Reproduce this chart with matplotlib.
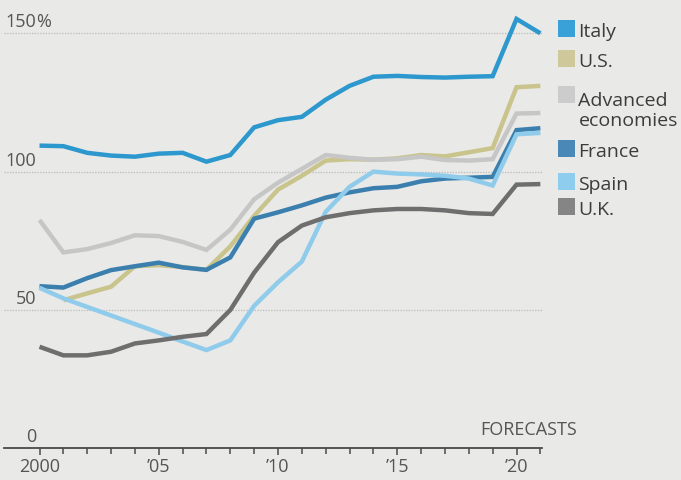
import numpy as np
import matplotlib
matplotlib.use("Agg")
import matplotlib.pyplot as plt
from matplotlib.patches import Rectangle

plt.rcParams['font.family'] = ['Open Sans', 'DejaVu Sans']

# General government gross debt, % of GDP
years = list(range(2000, 2022))
italy = [109.4, 109.2, 106.8, 105.8, 105.4, 106.5, 106.8, 103.6, 106.0, 116.0, 118.6,
         119.8, 126.0, 131.0, 134.3, 134.6, 134.2, 134.0, 134.3, 134.5, 155.2, 150.0]
us = [np.nan, 53.5, 56.0, 58.4, 65.8, 66.2, 65.5, 64.5, 73.0, 84.0, 93.5,
      98.5, 104.0, 104.5, 104.3, 104.8, 106.0, 105.5, 107.0, 108.5, 130.5, 131.0]
advanced = [82.5, 70.8, 72.0, 74.2, 77.0, 76.7, 74.6, 71.7, 79.0, 90.0, 96.0,
            101.0, 106.0, 105.0, 104.3, 104.5, 105.4, 104.2, 104.0, 104.5, 121.0, 121.2]
france = [58.6, 58.1, 61.5, 64.4, 65.8, 67.1, 65.4, 64.5, 69.0, 83.0, 85.3,
          87.8, 90.6, 92.5, 94.0, 94.5, 96.5, 97.5, 97.8, 98.1, 115.0, 115.7]
spain = [58.0, 54.2, 51.1, 48.0, 44.9, 41.8, 38.6, 35.5, 39.0, 51.5, 60.0,
         67.5, 85.5, 94.5, 100.0, 99.3, 99.0, 98.5, 97.5, 95.0, 113.5, 114.0]
uk = [36.7, 33.6, 33.6, 34.9, 37.9, 39.0, 40.3, 41.3, 50.0, 63.5, 74.5,
      80.5, 83.5, 85.0, 86.0, 86.5, 86.5, 86.0, 85.0, 84.7, 95.3, 95.5]

series_names = ["Italy", "U.S.", "Advanced\neconomies", "France", "Spain", "U.K."]
series_values = [italy, us, advanced, france, spain, uk]
line_colors = ["#2c98cd", "#c9c48c", "#c6c6c6", "#3a7fae", "#8fcbeb", "#6e6e6e"]
legend_colors = ["#3aa0d8", "#cfc89a", "#cccccc", "#4a88b8", "#8fcdef", "#858585"]

y_ticks = [0, 50, 100, 150]
x_ticks = [2000, 2005, 2010, 2015, 2020]
x_tick_labels = ["2000", "\u201905", "\u201910", "\u201915", "\u201920"]

W, H = 681, 480
BG = "#e9e9e7"
fig = plt.figure(figsize=(W / 100, H / 100), dpi=100, facecolor=BG)


def fx(px):
    return px / W


def fy(py):
    return 1 - py / H


# plot area in pixels
ax_left, ax_right = 4.0, 541.7
ax_bottom, ax_top = 448.3, 8.0
ax = fig.add_axes([fx(ax_left), fy(ax_bottom), fx(ax_right - ax_left), (ax_bottom - ax_top) / H])
ax.set_facecolor("none")

px_per_year = 23.85
x0_px = 39.5
ax.set_xlim(2000 + (ax_left - x0_px) / px_per_year, 2000 + (ax_right - x0_px) / px_per_year)
px_per_unit = (448.3 - 33.3) / 150
ax.set_ylim(0, (ax_bottom - ax_top) / px_per_unit)

for s in ["top", "right", "left"]:
    ax.spines[s].set_visible(False)
ax.spines["bottom"].set_color("#4a4a4a")
ax.spines["bottom"].set_linewidth(1.3)

# dotted gridlines
for v in y_ticks[1:]:
    ax.axhline(v, color="#b9b9b9", lw=0.9, ls=(0, (1, 1.2)), zorder=1)

ax.set_yticks([])
ax.set_xticks(x_ticks)
ax.set_xticklabels(x_tick_labels)
ax.set_xticks(years[:], minor=True)
ax.tick_params(axis="x", which="major", direction="out", length=5, width=1.1,
               color="#4a4a4a", labelsize=13, labelcolor="#555555", pad=2)
ax.tick_params(axis="x", which="minor", direction="out", length=4.5, width=1.1,
               color="#4a4a4a")

# y labels sitting above the gridlines, numbers right-aligned
ytrans = ax.get_yaxis_transform()
xr = (36 - ax_left) / (ax_right - ax_left)
for v in y_ticks:
    ax.text(xr, v + 2.2, str(v), transform=ytrans, ha="right", va="baseline",
            fontsize=13, color="#555555")
ax.text(xr, y_ticks[-1] + 2.2, "%", transform=ytrans, ha="left", va="baseline",
        fontsize=13, color="#555555")

# lines, drawn back to front
draw_order = [2, 1, 5, 4, 3, 0]
for i in draw_order:
    ax.plot(years, series_values[i], color=line_colors[i], lw=3.2,
            solid_joinstyle="miter", solid_capstyle="butt", zorder=3 + i * 0.1)

# legend
sq_top = [20, 50, 86, 140, 173, 198]
sq = 17
for name, col, top in zip(series_names, legend_colors, sq_top):
    fig.patches.append(Rectangle((fx(557.5), fy(top + sq)), fx(sq), sq / H,
                                 transform=fig.transFigure, facecolor=col,
                                 edgecolor="none"))
    base = top + sq + (3 if "\n" in name else 0)
    fig.text(fx(578.5), fy(base), name.split("\n")[0], ha="left", va="baseline",
             fontsize=14, color="#3c3c3c")
    if "\n" in name:
        fig.text(fx(578.5), fy(base + 20.5), name.split("\n")[1], ha="left",
                 va="baseline", fontsize=14, color="#3c3c3c")

fig.text(fx(577), fy(435), "FORECASTS", ha="right", va="baseline",
         fontsize=13, color="#555555")

fig.savefig("out.png", dpi=100, facecolor=BG)
